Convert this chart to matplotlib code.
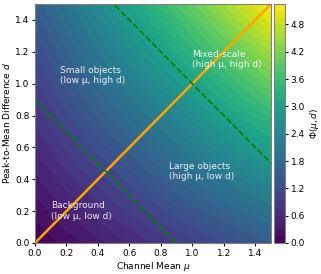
import numpy as np
import matplotlib
matplotlib.use("Agg")
import matplotlib.pyplot as plt

# grid range for mu and d
mu_range = [0.0, 1.5]
d_range = [0.0, 1.5]

# dashed iso-lines  mu + d = c
iso_sums = [0.9, 2.0]

# region labels
region_texts = ["Background\n(low μ, low d)", "Small objects\n(low μ, high d)",
                "Large objects\n(high μ, low d)", "Mixed-scale\n(high μ, high d)"]
region_mu = [0.1, 0.16, 0.85, 1.0]
region_d = [0.2, 1.05, 0.45, 1.15]

mu = np.linspace(mu_range[0], mu_range[1], 300)
d = np.linspace(d_range[0], d_range[1], 300)
M, D = np.meshgrid(mu, d)
phi = M + D + M * D

fig = plt.figure(figsize=(3.21, 2.74), dpi=100)
ax = fig.add_axes([35 / 321, 31 / 274, 236 / 321, 239 / 274])
cax = fig.add_axes([274 / 321, 31 / 274, 11 / 321, 239 / 274])

cf = ax.contourf(M, D, phi, levels=50, cmap="viridis")

# mu = d diagonal
ax.plot(mu_range, d_range, color="orange", lw=1.8)

for c in iso_sums:
    xs = np.array(mu_range)
    ax.plot(xs, c - xs, color="green", ls="--", lw=1.2)

for t, x, y in zip(region_texts, region_mu, region_d):
    ax.text(x, y, t, color="white", alpha=0.9, fontsize=6.5, ha="left", va="center")

ax.set_xlim(mu_range)
ax.set_ylim(d_range)
ax.set_xlabel("Channel Mean $\\mu$", fontsize=6.5, labelpad=2)
ax.set_ylabel("Peak-to-Mean Difference $d$", fontsize=6.5, labelpad=2)
ax.tick_params(labelsize=6.5, length=2.5, pad=1.5)
for s in ax.spines.values():
    s.set_edgecolor("grey")

cb = fig.colorbar(cf, cax=cax)
cb.set_label("$\\Phi(\\mu, d)$", fontsize=6.5, labelpad=2)
cb.ax.tick_params(labelsize=6.5, length=2.5, pad=1.5)
cb.outline.set_edgecolor("grey")

fig.savefig("out.png", dpi=100)
